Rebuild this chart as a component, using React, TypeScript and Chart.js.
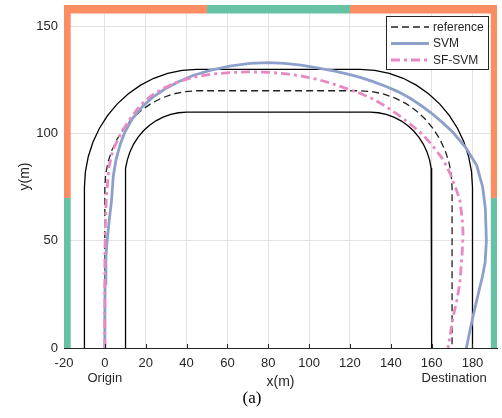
import React, { useEffect, useRef } from 'react';
import { Chart, registerables } from 'chart.js';

Chart.register(...registerables);

type P = [number, number];

// ---- axes ----
const X_MIN = -20;
const X_MAX = 192;
const Y_MIN = 0;
const Y_MAX = 160;
const xTicks = [-20, 0, 20, 40, 60, 80, 100, 120, 140, 160, 180];
const yTicks = [0, 50, 100, 150];

// ---- road boundaries ----
const outerRoad: P[] = [
  [-10, 0], [-10, 75], [-9.53, 82.18], [-8.13, 89.23], [-5.81, 96.05], [-2.63, 102.5],
  [1.37, 108.48], [6.11, 113.89], [11.52, 118.63], [17.5, 122.63], [23.95, 125.81],
  [30.77, 128.13], [37.82, 129.53], [45, 130], [125, 130], [132.18, 129.53],
  [139.23, 128.13], [146.05, 125.81], [152.5, 122.63], [158.48, 118.63], [163.89, 113.89],
  [168.63, 108.48], [172.63, 102.5], [175.81, 96.05], [178.13, 89.23], [179.53, 82.18],
  [180, 75], [180, 0],
];
const innerRoad: P[] = [
  [10, 0], [10, 80], [10.26, 83.92], [11.02, 87.76], [12.28, 91.48], [14.02, 95],
  [16.2, 98.26], [18.79, 101.21], [21.74, 103.8], [25, 105.98], [28.52, 107.72],
  [32.24, 108.98], [36.08, 109.74], [40, 110], [130, 110], [133.92, 109.74],
  [137.76, 108.98], [141.48, 107.72], [145, 105.98], [148.26, 103.8], [151.21, 101.21],
  [153.8, 98.26], [155.98, 95], [157.72, 91.48], [158.98, 87.76], [159.74, 83.92],
  [160, 80], [160, 0],
];

// ---- series ----
const referencePath: P[] = [
  [0, 0], [0, 75], [0.39, 80.87], [1.53, 86.65], [3.43, 92.22], [6.03, 97.5],
  [9.3, 102.39], [13.18, 106.82], [17.61, 110.7], [22.5, 113.97], [27.78, 116.57],
  [33.35, 118.47], [39.13, 119.61], [45, 120], [125, 120], [130.87, 119.61],
  [136.65, 118.47], [142.22, 116.57], [147.5, 113.97], [152.39, 110.7], [156.82, 106.82],
  [160.7, 102.39], [163.97, 97.5], [166.57, 92.22], [168.47, 86.65], [169.61, 80.87],
  [170, 75], [170, 0],
];
const svmPath: P[] = [
  [0, 0], [0, 15], [0.1, 30], [0.5, 42], [1.1, 50], [2.2, 60], [3.3, 69], [4.1, 80],
  [5.5, 88], [7.5, 95], [9.8, 100.7], [13.5, 107], [18.7, 112.9], [23.5, 117],
  [29.4, 120.8], [36, 124.2], [43.2, 127.1], [52, 129.6], [61.2, 131.5], [71, 132.8],
  [80, 133.1], [88, 132.8], [96, 132], [104, 130.7], [112, 129.3], [120, 127.5],
  [125, 126.2], [131, 124.4], [137.7, 122], [143.5, 119.6], [149.3, 116.6], [155, 113],
  [160, 109.5], [165.5, 105], [170.5, 100.5], [176.7, 93.5], [182.1, 85.1], [185, 75],
  [186.3, 65], [186.8, 50], [186.2, 40], [184.8, 33], [183.5, 28], [180.3, 15],
  [178.5, 7], [177, 0],
];
const sfsvmPath: P[] = [
  [0, 0], [0, 20], [0, 40], [0.2, 55], [0.5, 65], [0.8, 70.7], [1.4, 78], [2.1, 84.8],
  [4, 92.5], [8.2, 100.7], [12, 106.5], [17.1, 112.9], [22, 117.2], [28, 120.8],
  [35.1, 123.9], [43, 126.2], [52, 127.7], [61, 128.5], [70, 128.8], [80, 128.6],
  [88, 128], [96, 126.9], [104, 125.3], [110, 123.7], [116.6, 121.6], [125, 118.8],
  [131, 116.3], [137, 113], [144, 108.5], [151, 103.3], [156, 99.2], [160.5, 94.3],
  [165.6, 87.9], [169, 81.5], [172.1, 73.8], [173.8, 69], [175, 60], [175.4, 53.5],
  [175, 45], [173.8, 30.1], [172.3, 22], [170.5, 14.4], [169.2, 7], [168, 0],
];

const seriesNames = ['reference', 'SVM', 'SF-SVM'];

// ---- border colour segments ----
const ORANGE = '#FC8D62';
const GREEN = '#66C2A5';
const topSegments: [number, number, string][] = [
  [-20, 50, ORANGE], [50, 120, GREEN], [120, 192, ORANGE],
];
const sideSegments: [number, number, string][] = [
  [0, 70, GREEN], [70, 160, ORANGE],
];

// ---- annotations ----
const xAnnotations: [number, string][] = [[0, 'Origin'], [171, 'Destination']];
const xTitle = 'x(m)';
const yTitle = 'y(m)';
const caption = '(a)';

const FONT = '"Liberation Sans", Arial, Helvetica, sans-serif';
const TEXT = '#262626';
const BLUE = '#8DA0CB';
const PINK = '#E78AC3';

const toXY = (arr: P[]) => arr.map(([x, y]) => ({ x, y }));

const overlayPlugin = {
  id: 'overlay',
  afterDraw(chart: any) {
    const { ctx, chartArea: a, scales } = chart;
    const xs = scales.x;
    const ys = scales.y;
    ctx.save();

    // inside tick marks on bottom axis
    ctx.strokeStyle = TEXT;
    ctx.lineWidth = 1;
    xTicks.forEach((v) => {
      const px = Math.round(xs.getPixelForValue(v)) + 0.5;
      ctx.beginPath();
      ctx.moveTo(px, a.bottom);
      ctx.lineTo(px, a.bottom - 4);
      ctx.stroke();
    });

    // colored border bars
    const clampX = (p: number) => Math.max(a.left, Math.min(a.right, p));
    const clampY = (p: number) => Math.max(a.top, Math.min(a.bottom, p));
    sideSegments.forEach(([s, e, c]) => {
      const y0 = clampY(ys.getPixelForValue(e));
      const y1 = clampY(ys.getPixelForValue(s));
      ctx.fillStyle = c;
      ctx.fillRect(a.left, y0, 6.7, y1 - y0);
      ctx.fillRect(a.right - 6.2, y0, 6.2, y1 - y0);
    });
    topSegments.forEach(([s, e, c]) => {
      const x0 = clampX(xs.getPixelForValue(s));
      const x1 = clampX(xs.getPixelForValue(e));
      ctx.fillStyle = c;
      ctx.fillRect(x0, a.top, x1 - x0, 8.5);
    });

    // legend
    const bw = 102;
    const bh = 53;
    const bx = a.right - 9 - bw;
    const by = a.top + 11;
    ctx.fillStyle = '#ffffff';
    ctx.fillRect(bx, by, bw, bh);
    ctx.strokeStyle = '#262626';
    ctx.lineWidth = 1;
    ctx.setLineDash([]);
    ctx.strokeRect(Math.round(bx) + 0.5, Math.round(by) + 0.5, bw, bh);
    ctx.font = `12px ${FONT}`;
    ctx.textBaseline = 'middle';
    ctx.textAlign = 'left';
    seriesNames.forEach((name, i) => {
      const ds = chart.data.datasets[i];
      const ly = by + 11 + i * 16.5;
      ctx.strokeStyle = ds.borderColor;
      ctx.lineWidth = ds.borderWidth;
      ctx.setLineDash(ds.borderDash || []);
      ctx.beginPath();
      ctx.moveTo(bx + 5, ly);
      ctx.lineTo(bx + 43, ly);
      ctx.stroke();
      ctx.setLineDash([]);
      ctx.fillStyle = TEXT;
      ctx.fillText(name, bx + 47, ly + 0.5);
    });

    // extra x annotations
    ctx.fillStyle = TEXT;
    ctx.textAlign = 'center';
    ctx.font = `13px ${FONT}`;
    xAnnotations.forEach(([v, t]) => {
      ctx.fillText(t, xs.getPixelForValue(v), a.bottom + 30);
    });
    ctx.font = `14px ${FONT}`;
    ctx.fillText(xTitle, (a.left + a.right) / 2, a.bottom + 34.5);

    // y title
    ctx.save();
    ctx.translate(25, (a.top + a.bottom) / 2);
    ctx.rotate(-Math.PI / 2);
    ctx.fillText(yTitle, 0, 0);
    ctx.restore();

    // caption
    ctx.font = `17px "Liberation Serif", "Times New Roman", serif`;
    ctx.fillStyle = '#000000';
    ctx.fillText(caption, 252, 399);

    ctx.restore();
  },
};

export default function App() {
  const ref = useRef<HTMLCanvasElement | null>(null);

  useEffect(() => {
    const canvas = ref.current;
    if (!canvas) return;
    const line = (data: P[], color: string, width: number, dash: number[], order: number, label: string) => ({
      label,
      data: toXY(data),
      showLine: true,
      borderColor: color,
      backgroundColor: color,
      borderWidth: width,
      borderDash: dash,
      pointRadius: 0,
      pointHoverRadius: 0,
      fill: false,
      tension: 0,
      order,
    });
    const chart = new Chart(canvas, {
      type: 'scatter',
      data: {
        datasets: [
          line(referencePath, '#222222', 1.3, [7, 4], 2, seriesNames[0]),
          line(svmPath, BLUE, 2.8, [], 1, seriesNames[1]),
          line(sfsvmPath, PINK, 2.8, [9, 4, 3, 4], 0, seriesNames[2]),
          line(outerRoad, '#000000', 1.3, [], 3, 'outer'),
          line(innerRoad, '#000000', 1.3, [], 3, 'inner'),
        ],
      },
      options: {
        responsive: false,
        animation: false,
        events: [],
        layout: { padding: { top: 5, right: 5, left: 0, bottom: 0 } },
        plugins: {
          legend: { display: false },
          tooltip: { enabled: false },
          title: { display: false },
        },
        scales: {
          x: {
            type: 'linear',
            min: X_MIN,
            max: X_MAX,
            afterBuildTicks: (s: any) => {
              s.ticks = xTicks.map((v) => ({ value: v }));
            },
            afterFit: (s: any) => {
              s.height = 70;
              s.paddingLeft = 0;
              s.paddingRight = 0;
            },
            grid: { color: '#e3e3e3', lineWidth: 1, drawTicks: false },
            border: { display: true, color: TEXT, width: 1 },
            ticks: {
              font: { family: FONT, size: 13 },
              color: TEXT,
              padding: 8,
              maxRotation: 0,
              autoSkip: false,
              callback: (v: any) => String(v),
            },
          },
          y: {
            type: 'linear',
            min: Y_MIN,
            max: Y_MAX,
            afterBuildTicks: (s: any) => {
              s.ticks = yTicks.map((v) => ({ value: v }));
            },
            afterFit: (s: any) => {
              s.width = 64;
              s.paddingTop = 0;
              s.paddingBottom = 0;
            },
            grid: { color: '#e3e3e3', lineWidth: 1, drawTicks: false },
            border: { display: false },
            ticks: {
              font: { family: FONT, size: 13 },
              color: TEXT,
              padding: 6,
              callback: (v: any) => String(v),
            },
          },
        },
      } as any,
      plugins: [overlayPlugin],
    });
    return () => chart.destroy();
  }, []);

  return (
    <div style={{ position: 'fixed', left: 0, top: 0, width: 502, height: 418, background: '#fff' }}>
      <canvas ref={ref} width={502} height={418} style={{ display: 'block', width: 502, height: 418 }} />
    </div>
  );
}
